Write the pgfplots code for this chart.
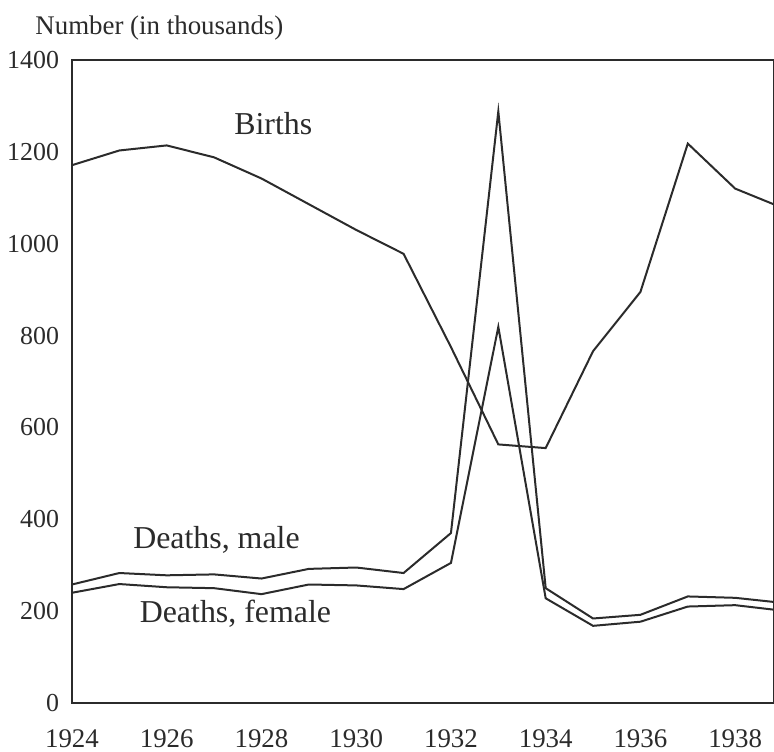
\documentclass[border=0pt]{standalone}
\usepackage{fontspec}
\setmainfont{Liberation Serif}
\usepackage{pgfplots}
\pgfplotsset{compat=1.18}
\definecolor{ink}{HTML}{2B2B2B}
\begin{document}
\begin{tikzpicture}
\useasboundingbox (-36bp,-24.5bp) rectangle (351bp,351.5bp);
\begin{axis}[
  at={(0,0)}, anchor=south west,
  scale only axis,
  width=351bp, height=321.5bp,
  xmin=1924, xmax=1938.82,
  ymin=0, ymax=1400,
  xtick={1924,1926,...,1938},
  ytick={0,200,...,1400},
  major tick length=0pt,
  axis line style={ink, line width=0.9bp},
  tick label style={font=\fontsize{13}{15}\selectfont, text=ink},
  xticklabel style={font=\fontsize{13.5}{15}\selectfont, yshift=-10bp},
  /pgf/number format/assume math mode=true,
  /pgf/number format/1000 sep={},
  yticklabel style={xshift=-3bp},
  clip=true,
]
\addplot[ink, line width=1bp] coordinates {
(1924,1171) (1925,1203) (1926,1214) (1927,1188) (1928,1142) (1929,1086)
(1930,1030) (1931,978) (1932,775) (1933,563) (1934,555) (1935,766)
(1936,895) (1937,1218) (1938,1120) (1939,1078)};
\addplot[ink, line width=1bp] coordinates {
(1924,258) (1925,283) (1926,278) (1927,280) (1928,271) (1929,292)
(1930,295) (1931,283) (1932,370) (1933,1288) (1934,250) (1935,184)
(1936,192) (1937,232) (1938,229) (1939,218)};
\addplot[ink, line width=1bp] coordinates {
(1924,240) (1925,259) (1926,252) (1927,250) (1928,237) (1929,258)
(1930,256) (1931,248) (1932,305) (1933,819) (1934,228) (1935,168)
(1936,177) (1937,210) (1938,213) (1939,201)};
\node[font=\fontsize{16}{18}\selectfont, text=ink] at (axis cs:1928.25,1262) {Births};
\node[font=\fontsize{16}{18}\selectfont, text=ink] at (axis cs:1927.05,356) {Deaths, male};
\node[font=\fontsize{16}{18}\selectfont, text=ink] at (axis cs:1927.45,194) {Deaths, female};
\end{axis}
\node[anchor=base west, font=\fontsize{13.5}{15}\selectfont, text=ink, inner sep=0pt] at (-18.5bp,334bp) {Number (in thousands)};
\end{tikzpicture}
\end{document}
